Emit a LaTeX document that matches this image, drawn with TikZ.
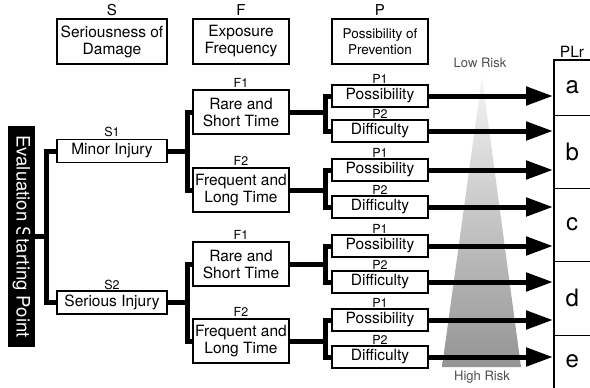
\documentclass[tikz,border=0pt]{standalone}
\usepackage{fontspec}
\setmainfont{TeX Gyre Heros}
\usetikzlibrary{arrows.meta}
\begin{document}
\begin{tikzpicture}[x=1pt,y=-1pt,
  box/.style={draw, line width=1.1pt, inner sep=0pt, align=center,
    font=\fontsize{15.5}{17}\selectfont},
  sbox/.style={box, minimum width=110, minimum height=23},
  fbox/.style={box, minimum width=96, minimum height=44},
  pbox/.style={box, minimum width=96, minimum height=22},
  conn/.style={line width=5pt, line join=miter},
  arr/.style={line width=5pt, -{Triangle[length=27pt,width=18pt]}},
  lbl/.style={inner sep=0pt, anchor=base, font=\fontsize{12.5}{12.5}\selectfont},
  hdr/.style={inner sep=0pt, anchor=base, font=\fontsize{15}{15}\selectfont},
  risk/.style={inner sep=0pt, anchor=base, text=black!70, font=\fontsize{13}{13}\selectfont},
  cell/.style={inner sep=0pt, minimum width=36, anchor=north west, font=\fontsize{24}{24}\selectfont},
  frame/.style={line width=1.1pt}]
\useasboundingbox (0,0) rectangle (590,388);

% risk triangle
\shade[top color=black!4, bottom color=black!42] (482,77) -- (521,367) -- (442,367) -- cycle;
\node[risk] (low) at (480,67) {Low Risk};
\node[risk] (high) at (482,380) {High Risk};

% headers
\node[box, minimum width=110, minimum height=45] (hs) at (112,41.5) {Seriousness of\\Damage};
\node[box, minimum width=96, minimum height=45] (hf) at (241,41.5) {Exposure\\Frequency};
\node[box, minimum width=96, minimum height=45, font=\fontsize{13.5}{15.5}\selectfont] (hp) at (380,41.5) {Possibility of\\Prevention};
\node[hdr] (ls) at (112,16) {S};
\node[hdr] (lf) at (241,16) {F};
\node[hdr] (lp) at (380,16) {P};

% start
\node[fill=black, text=white, inner sep=0pt, minimum width=221, minimum height=27, rotate=-90,
  font=\fontsize{18.5}{18.5}\selectfont] (eval) at (21.5,236.5) {Evaluation Starting Point};

% S boxes
\node[sbox] (s1) at (112,151) {Minor Injury};
\node[sbox] (s2) at (112,302.5) {Serious Injury};
\node[lbl] (ls1) at (112,136) {S1};
\node[lbl] (ls2) at (112,289) {S2};

% F boxes
\node[fbox] (f1) at (241,112) {Rare and\\Short Time};
\node[fbox] (f2) at (241,190) {Frequent and\\Long Time};
\node[fbox] (f3) at (241,264) {Rare and\\Short Time};
\node[fbox] (f4) at (241,341) {Frequent and\\Long Time};
\node[lbl] (lf1) at (241,87) {F1};
\node[lbl] (lf2) at (241,165) {F2};
\node[lbl] (lf3) at (241,239) {F1};
\node[lbl] (lf4) at (241,316) {F2};

% P boxes and arrows
\foreach \i/\y/\t/\l in {1/96/Possibility/P1, 2/131/Difficulty/P2,
  3/170/Possibility/P1, 4/207/Difficulty/P2, 5/246/Possibility/P1,
  6/282/Difficulty/P2, 7/320/Possibility/P1, 8/357/Difficulty/P2} {
  \node[pbox] (p\i) at (380,\y) {\t};
  \node[lbl] (lp\i) at (380,\y-12.5) {\l};
  \coordinate (t\i) at (553,\y);
  \draw[arr] (p\i.east) -- (t\i);
}

% connectors
\coordinate (j0) at (46.5,236.5);
\draw[conn] (eval.south) -- (j0);
\draw[conn] (s1.west) -| (j0) |- (s2.west);

\coordinate (js1) at (187.5,151);
\coordinate (js2) at (187.5,302.5);
\draw[conn] (s1.east) -- (js1);
\draw[conn] (f1.west) -| (js1) |- (f2.west);
\draw[conn] (s2.east) -- (js2);
\draw[conn] (f3.west) -| (js2) |- (f4.west);

\foreach \f/\a/\b in {1/1/2, 2/3/4, 3/5/6, 4/7/8} {
  \coordinate (jf\f) at (325,0 |- f\f.center);
  \draw[conn] (f\f.east) -- (jf\f);
  \draw[conn] (p\a.west) -| (jf\f) |- (p\b.west);
}

% PLr column
\node[hdr, font=\fontsize{15.5}{15.5}\selectfont] (plr) at (572,57) {PLr};
\node[cell, minimum height=55] (ca) at (554,60) {a};
\node[cell, minimum height=73] (cb) at (554,115) {b};
\node[cell, minimum height=73] (cc) at (554,188) {c};
\node[cell, minimum height=74] (cd) at (554,261) {d};
\node[cell, minimum height=53] (ce) at (554,335) {e};
\draw[frame] (600,60) -- (ca.north west) -- (554,400);
\foreach \c in {ca,cb,cc,cd} \draw[frame] (\c.south west) -- ++(50,0);
\end{tikzpicture}
\end{document}
